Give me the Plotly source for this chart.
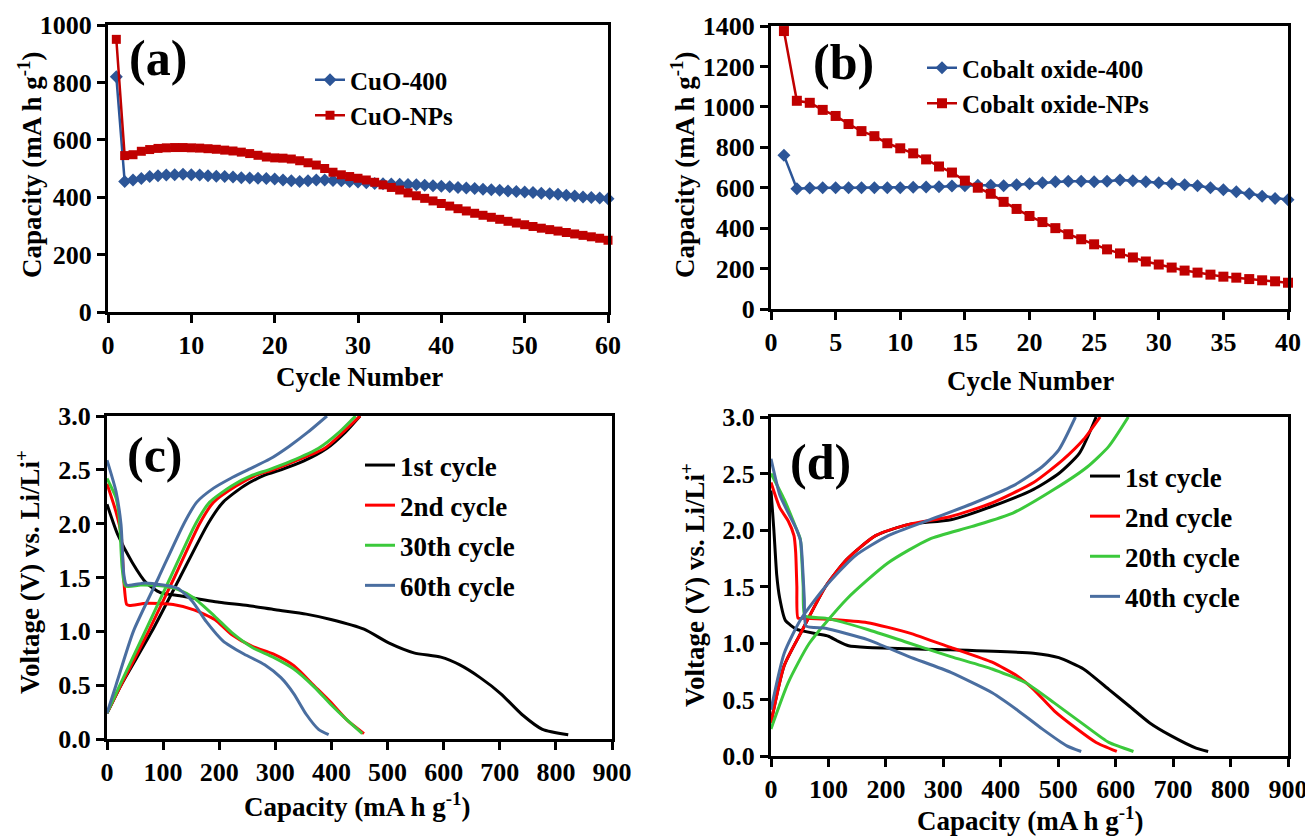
import plotly.graph_objects as go

# target picture size and the page's default body margin
W, H = 1313, 837
OFF = 8
FW, FH = W - OFF, H - OFF
FONT = "Liberation Serif"

# ---------------- data ----------------
# (a) CuO cycling
cuo_cycles = list(range(1, 61))
cuo_400 = [820, 455, 460, 465, 472, 475, 477, 478, 480, 478,
           477, 475, 473, 472, 470, 468, 467, 466, 465, 463,
           460, 457, 455, 457, 460, 460, 458, 457, 455, 453,
           450, 448, 447, 446, 445, 444, 443, 442, 440, 438,
           436, 434, 432, 430, 428, 426, 424, 422, 420, 418,
           416, 414, 412, 410, 407, 404, 401, 399, 397, 395]
cuo_nps = [950, 545, 548, 560, 566, 570, 572, 573, 573, 572,
           571, 569, 567, 564, 561, 557, 552, 546, 540, 537,
           536, 533, 527, 520, 512, 500, 487, 478, 472, 466,
           460, 452, 443, 434, 425, 415, 405, 396, 387, 378,
           369, 360, 352, 344, 337, 330, 323, 316, 310, 304,
           298, 292, 287, 282, 277, 272, 267, 262, 257, 250]

# (b) Cobalt oxide cycling
co_cycles = list(range(1, 41))
co_400 = [760, 595, 598, 600, 600, 600, 600, 600, 600, 600,
          602, 603, 605, 608, 610, 612, 612, 610, 615, 620,
          625, 630, 632, 632, 630, 632, 638, 635, 630, 625,
          620, 615, 610, 600, 590, 580, 570, 558, 547, 540]
co_nps = [1375, 1030, 1020, 985, 955, 915, 880, 855, 820, 795,
          770, 740, 705, 675, 635, 600, 570, 530, 495, 460,
          430, 400, 370, 345, 320, 295, 275, 255, 235, 220,
          205, 190, 180, 170, 160, 155, 148, 142, 137, 130]

# (c) CuO charge/discharge profiles: (capacity, voltage)
c_names = ["1st cycle", "2nd cycle", "30th cycle", "60th cycle"]
c_dis_x = [
    [0, 19, 45, 70, 95, 130, 200, 251, 300, 355, 399, 458, 503, 547, 595, 628, 665, 702, 739, 776, 822],
    [0, 16, 25, 30, 35, 40, 70, 118, 155, 192, 222, 259, 296, 333, 370, 399, 429, 458],
    [0, 16, 22, 27, 33, 60, 100, 126, 155, 192, 222, 259, 296, 333, 370, 399, 429, 455],
    [0, 16, 25, 30, 35, 68, 100, 126, 152, 177, 207, 244, 281, 310, 333, 355, 377, 395],
]
c_dis_y = [
    [2.18, 1.90, 1.64, 1.45, 1.36, 1.33, 1.27, 1.24, 1.20, 1.16, 1.11, 1.02, 0.89, 0.80, 0.76, 0.69, 0.57, 0.42, 0.23, 0.09, 0.04],
    [2.37, 2.11, 1.91, 1.47, 1.25, 1.24, 1.26, 1.25, 1.20, 1.11, 0.97, 0.86, 0.79, 0.68, 0.49, 0.34, 0.17, 0.05],
    [2.42, 2.24, 2.05, 1.59, 1.42, 1.43, 1.42, 1.39, 1.31, 1.14, 0.99, 0.85, 0.76, 0.65, 0.48, 0.32, 0.17, 0.05],
    [2.59, 2.30, 1.99, 1.53, 1.43, 1.45, 1.43, 1.40, 1.28, 1.09, 0.91, 0.79, 0.69, 0.57, 0.42, 0.23, 0.09, 0.04],
]
c_chg_x = [
    [0, 25, 80, 130, 180, 207, 244, 281, 310, 350, 392, 425, 451],
    [0, 25, 74, 120, 165, 190, 230, 266, 296, 335, 388, 421, 451],
    [0, 23, 68, 113, 158, 183, 222, 259, 288, 328, 377, 414, 443],
    [0, 16, 47, 92, 137, 160, 190, 220, 251, 290, 325, 358, 392],
]
c_chg_y = [
    [0.24, 0.50, 1.00, 1.50, 2.00, 2.20, 2.35, 2.45, 2.50, 2.58, 2.70, 2.85, 3.00],
    [0.24, 0.50, 1.00, 1.50, 2.00, 2.20, 2.35, 2.45, 2.50, 2.58, 2.70, 2.85, 3.00],
    [0.24, 0.50, 1.00, 1.50, 2.00, 2.20, 2.35, 2.45, 2.50, 2.58, 2.70, 2.85, 3.00],
    [0.24, 0.50, 1.00, 1.50, 2.00, 2.20, 2.33, 2.42, 2.50, 2.60, 2.72, 2.85, 3.00],
]

# (d) Cobalt oxide charge/discharge profiles
d_names = ["1st cycle", "2nd cycle", "20th cycle", "40th cycle"]
d_dis_x = [
    [0, 5, 10, 15, 25, 45, 81, 100, 115, 135, 168, 313, 457, 501, 544, 588, 624, 660, 696, 740, 761],
    [0, 15, 30, 40, 43, 45, 47, 60, 100, 168, 240, 313, 385, 428, 457, 493, 530, 566, 602],
    [0, 23, 45, 51, 56, 59, 95, 168, 240, 313, 385, 443, 493, 544, 588, 631],
    [0, 16, 45, 52, 58, 61, 95, 168, 240, 313, 385, 428, 472, 515, 540],
]
d_dis_y = [
    [2.35, 2.00, 1.60, 1.40, 1.20, 1.12, 1.08, 1.06, 1.02, 0.975, 0.96, 0.94, 0.91, 0.87, 0.77, 0.59, 0.44, 0.29, 0.18, 0.07, 0.04],
    [2.42, 2.20, 2.08, 1.95, 1.80, 1.50, 1.22, 1.22, 1.21, 1.18, 1.09, 0.96, 0.83, 0.71, 0.59, 0.40, 0.25, 0.12, 0.04],
    [2.50, 2.27, 2.00, 1.92, 1.50, 1.24, 1.22, 1.12, 1.00, 0.88, 0.77, 0.65, 0.47, 0.28, 0.12, 0.04],
    [2.63, 2.30, 2.00, 1.89, 1.39, 1.15, 1.13, 1.03, 0.88, 0.74, 0.56, 0.41, 0.24, 0.09, 0.04],
]
d_chg_x = [
    [0, 23, 52, 95, 132, 182, 240, 313, 385, 457, 501, 537, 566],
    [0, 23, 52, 95, 132, 182, 240, 313, 385, 457, 508, 544, 573],
    [0, 30, 67, 132, 204, 276, 349, 421, 493, 551, 588, 622],
    [0, 23, 52, 95, 146, 204, 276, 349, 421, 472, 501, 530],
]
d_chg_y = [
    [0.30, 0.80, 1.09, 1.50, 1.74, 1.95, 2.05, 2.09, 2.21, 2.36, 2.50, 2.68, 3.00],
    [0.29, 0.80, 1.09, 1.50, 1.74, 1.95, 2.05, 2.12, 2.24, 2.42, 2.62, 2.80, 3.00],
    [0.24, 0.65, 1.00, 1.39, 1.71, 1.92, 2.03, 2.15, 2.36, 2.56, 2.74, 3.00],
    [0.41, 0.91, 1.21, 1.50, 1.77, 1.95, 2.09, 2.23, 2.39, 2.56, 2.71, 3.00],
]

# ---------------- style ----------------
BLUE_A = "#2C5597"
RED_A = "#C00000"
PROFILE_COLORS = ["#000000", "#FF0000", "#3BC93B", "#4A6EA0"]


def fx(x):
    return (x - OFF) / FW


def fy(y):
    return 1 - (y - OFF) / FH


fig = go.Figure()

# (a)
fig.add_trace(go.Scatter(x=cuo_cycles, y=cuo_400, name="CuO-400", mode="lines+markers",
                         line=dict(color=BLUE_A, width=2.5), marker=dict(symbol="diamond", size=10, color=BLUE_A),
                         xaxis="x", yaxis="y", legend="legend", cliponaxis=False))
fig.add_trace(go.Scatter(x=cuo_cycles, y=cuo_nps, name="CuO-NPs", mode="lines+markers",
                         line=dict(color=RED_A, width=2.5), marker=dict(symbol="square", size=9, color=RED_A),
                         xaxis="x", yaxis="y", legend="legend", cliponaxis=False))
# (b)
fig.add_trace(go.Scatter(x=co_cycles, y=co_400, name="Cobalt oxide-400", mode="lines+markers",
                         line=dict(color=BLUE_A, width=2.5), marker=dict(symbol="diamond", size=10, color=BLUE_A),
                         xaxis="x2", yaxis="y2", legend="legend2", cliponaxis=False))
fig.add_trace(go.Scatter(x=co_cycles, y=co_nps, name="Cobalt oxide-NPs", mode="lines+markers",
                         line=dict(color=RED_A, width=2.5), marker=dict(symbol="square", size=10, color=RED_A),
                         xaxis="x2", yaxis="y2", legend="legend2", cliponaxis=False))

# (c)
for i, nm in enumerate(c_names):
    col = PROFILE_COLORS[i]
    fig.add_trace(go.Scatter(x=c_dis_x[i], y=c_dis_y[i], name=nm, mode="lines",
                             line=dict(color=col, width=3, shape="spline", smoothing=0.6),
                             xaxis="x3", yaxis="y3", legend="legend3", legendgroup="c" + str(i)))
    fig.add_trace(go.Scatter(x=c_chg_x[i], y=c_chg_y[i], name=nm, mode="lines", showlegend=False,
                             line=dict(color=col, width=3, shape="spline", smoothing=0.6),
                             xaxis="x3", yaxis="y3", legend="legend3", legendgroup="c" + str(i)))
# (d)
for i, nm in enumerate(d_names):
    col = PROFILE_COLORS[i]
    fig.add_trace(go.Scatter(x=d_dis_x[i], y=d_dis_y[i], name=nm, mode="lines",
                             line=dict(color=col, width=3, shape="spline", smoothing=0.5),
                             xaxis="x4", yaxis="y4", legend="legend4", legendgroup="d" + str(i)))
    fig.add_trace(go.Scatter(x=d_chg_x[i], y=d_chg_y[i], name=nm, mode="lines", showlegend=False,
                             line=dict(color=col, width=3, shape="spline", smoothing=0.6),
                             xaxis="x4", yaxis="y4", legend="legend4", legendgroup="d" + str(i)))

tickfont = dict(family=FONT, size=26, color="black", weight="bold")


def axis(domain, rng, dtick, anchor, fmt=None):
    d = dict(domain=domain, range=rng, dtick=dtick, tick0=0, anchor=anchor,
             showline=True, linewidth=3, linecolor="black", mirror=True,
             ticks="outside", ticklen=8, tickwidth=3, tickcolor="black",
             showgrid=False, zeroline=False, tickfont=tickfont, fixedrange=True,
             automargin=False)
    if fmt:
        d["tickformat"] = fmt
    return d


# panel pixel boxes (in picture pixels): left, right, top, bottom
A = (108, 608, 25, 312)
B = (771, 1288, 26, 309)
C = (107, 612, 416, 739)
D = (771, 1288, 417, 756)


def xdom(b):
    return [fx(b[0]), fx(b[1])]


def ydom(b):
    return [fy(b[3]), fy(b[2])]


fig.update_layout(
    width=FW, height=FH,
    margin=dict(l=0, r=0, t=0, b=0, autoexpand=False),
    paper_bgcolor="white", plot_bgcolor="white",
    font=dict(family=FONT, color="black"),
    xaxis=axis(xdom(A), [0, 60], 10, "y"),
    yaxis=axis(ydom(A), [0, 1000], 200, "x"),
    xaxis2=axis(xdom(B), [0, 40], 5, "y2"),
    yaxis2=axis(ydom(B), [0, 1400], 200, "x2"),
    xaxis3=axis(xdom(C), [0, 900], 100, "y3"),
    yaxis3=axis(ydom(C), [0, 3], 0.5, "x3", ".1f"),
    xaxis4=axis(xdom(D), [0, 900], 100, "y4"),
    yaxis4=axis(ydom(D), [0, 3], 0.5, "x4", ".1f"),
)


def legend(left, top, size, gap=0):
    return dict(x=fx(left), y=fy(top), xanchor="left", yanchor="top", bgcolor="rgba(0,0,0,0)",
                font=dict(family=FONT, size=size, color="black", weight="bold"),
                tracegroupgap=gap, itemclick=False, itemdoubleclick=False)


fig.update_layout(
    legend=legend(310, 57, 25),
    legend2=legend(922, 45, 25),
    legend3=legend(360, 441, 27, 2),
    legend4=legend(1085, 452, 27, 2),
)

titlefont = dict(family=FONT, size=27, color="black", weight="bold")
labelfont = dict(family=FONT, size=50, color="black", weight="bold")

annots = [
    # axis titles
    ("Capacity (mA h g<sup>-1</sup>)", 30, 165, -90, titlefont),
    ("Cycle Number", 360, 377, 0, titlefont),
    ("Capacity (mA h g<sup>-1</sup>)", 683, 165, -90, titlefont),
    ("Cycle Number", 1030, 381, 0, titlefont),
    ("Voltage (V) vs. Li/Li<sup>+</sup>", 28, 572, -90, titlefont),
    ("Capacity (mA h g<sup>-1</sup>)", 357, 805, 0, titlefont),
    ("Voltage (V) vs. Li/Li<sup>+</sup>", 693, 585, -90, titlefont),
    ("Capacity (mA h g<sup>-1</sup>)", 1030, 819, 0, titlefont),
    # panel labels
    ("(a)", 158, 58, 0, labelfont),
    ("(b)", 843, 62, 0, labelfont),
    ("(c)", 155, 455, 0, labelfont),
    ("(d)", 820, 462, 0, labelfont),
]
for text, ax_, ay_, ang, f in annots:
    fig.add_annotation(text=text, x=fx(ax_), y=fy(ay_), xref="paper", yref="paper", showarrow=False,
                       textangle=ang, xanchor="center", yanchor="middle", font=f)

fig.write_html("out.html")
